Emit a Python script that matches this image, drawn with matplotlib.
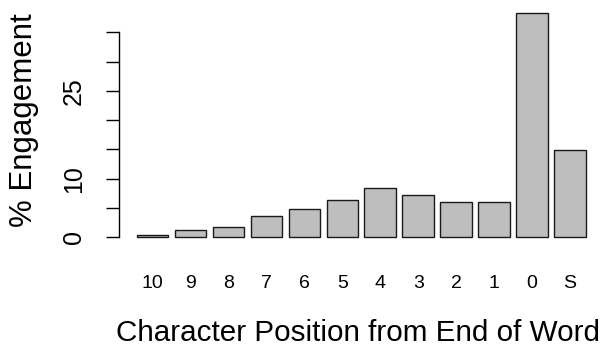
import matplotlib
matplotlib.use("Agg")
import matplotlib.pyplot as plt
import numpy as np

# bar labels and values (% engagement)
positions = ["10", "9", "8", "7", "6", "5", "4", "3", "2", "1", "0", "S"]
engagement = [0.45, 1.2, 1.8, 3.6, 4.9, 6.4, 8.5, 7.3, 6.0, 6.0, 38.2, 14.9]
yticks = [0, 5, 10, 15, 20, 25, 30, 35]
ytick_labels = ["0", "", "10", "", "", "25", "", ""]

plt.rcParams["font.family"] = ["Liberation Sans", "DejaVu Sans"]

fig = plt.figure(figsize=(6.1, 3.46), dpi=100)
ax = fig.add_axes([0.1946, 0.2882, 0.7954, 0.6982])

# R-style barplot: width 1, space 0.2
x = 0.2 + 1.2 * np.arange(len(engagement)) + 0.5
ax.bar(x, engagement, width=1.0, color="#bebebe", edgecolor="#1a1a1a", linewidth=1.0)

ax.set_xlim(-0.368, 14.968)
ax.set_ylim(-1.53, 39.7)

ax.set_xticks(x)
ax.set_xticklabels(positions, fontsize=14)
ax.tick_params(axis="x", length=0, pad=20.5)

ax.set_yticks(yticks)
ax.set_yticklabels(ytick_labels, fontsize=18, rotation=90, va="center")
ax.tick_params(axis="y", length=9.4, width=1.0, pad=14)

for s in ["top", "right", "bottom"]:
    ax.spines[s].set_visible(False)
ax.spines["left"].set_bounds(0, 35)
ax.spines["left"].set_linewidth(1.0)

ax.set_xlabel("Character Position from End of Word", fontsize=21.3)
ax.xaxis.set_label_coords(0.494, -0.359)
ax.xaxis.label.set_va("center")
ax.set_ylabel("% Engagement", fontsize=22.5)
ax.yaxis.set_label_coords(-0.196, 0.523)
ax.yaxis.label.set_va("center")

fig.savefig("out.png", dpi=100)
